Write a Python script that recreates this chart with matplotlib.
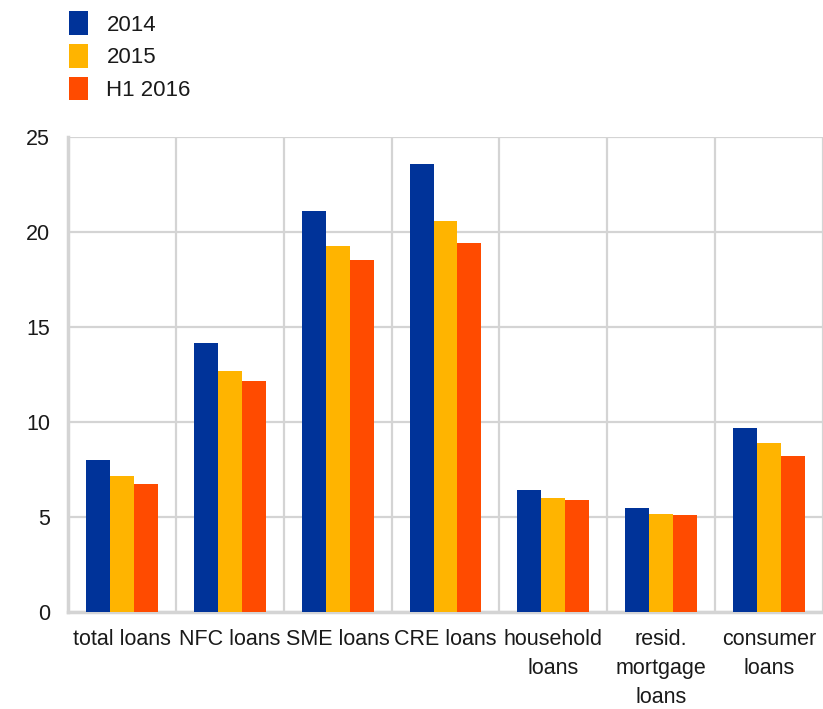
import matplotlib.pyplot as plt
import numpy as np

plt.rcParams['font.family'] = ['Liberation Sans', 'DejaVu Sans']

categories = ['total loans', 'NFC loans', 'SME loans', 'CRE loans',
              'household\nloans', 'resid.\nmortgage\nloans', 'consumer\nloans']
series_names = ['2014', '2015', 'H1 2016']
v2014 = [8.0, 14.15, 21.1, 23.6, 6.4, 5.5, 9.7]
v2015 = [7.15, 12.7, 19.25, 20.6, 6.0, 5.15, 8.9]
vh2016 = [6.75, 12.15, 18.5, 19.4, 5.9, 5.1, 8.2]
colors = ['#003399', '#FFB400', '#FF4B00']

fig = plt.figure(figsize=(8.23, 7.09), dpi=100)
ax = fig.add_axes([0.0826, 0.1368, 0.9174, 0.67])

x = np.arange(len(categories))
w = 0.222
handles = []
for k, (vals, c, name) in enumerate(zip([v2014, v2015, vh2016], colors, series_names)):
    b = ax.bar(x + (k - 1) * w, vals, width=w, color=c, label=name, zorder=3)
    handles.append(b)

ax.set_xlim(-0.5, len(categories) - 0.5)
ax.set_ylim(0, 25)
ax.set_yticks([0, 5, 10, 15, 20, 25])
ax.set_xticks(x)
ax.set_xticklabels(categories, linespacing=1.5)
ax.set_xticks(np.arange(len(categories) + 1) - 0.5, minor=True)

gc = '#d4d4d4'
ax.grid(axis='y', which='major', color=gc, linewidth=1.6, zorder=0)
ax.grid(axis='x', which='minor', color=gc, linewidth=1.6, zorder=0)
ax.tick_params(axis='both', which='both', length=0, labelsize=15.5, colors='#1a1a1a')
ax.tick_params(axis='y', pad=13)
ax.tick_params(axis='x', pad=12)
for s in ['top', 'right']:
    ax.spines[s].set_visible(False)
ax.spines['left'].set_color(gc)
ax.spines['left'].set_linewidth(2.5)
ax.spines['bottom'].set_color(gc)
ax.spines['bottom'].set_linewidth(2.5)

fig.legend(handles=handles, labels=series_names, loc='upper left',
           bbox_to_anchor=(0.06, 1.012), frameon=False, fontsize=16,
           handlelength=0.82, handleheight=1.25, handletextpad=0.85,
           labelspacing=0.38, labelcolor='#1a1a1a')

plt.savefig('out.png', dpi=100)
